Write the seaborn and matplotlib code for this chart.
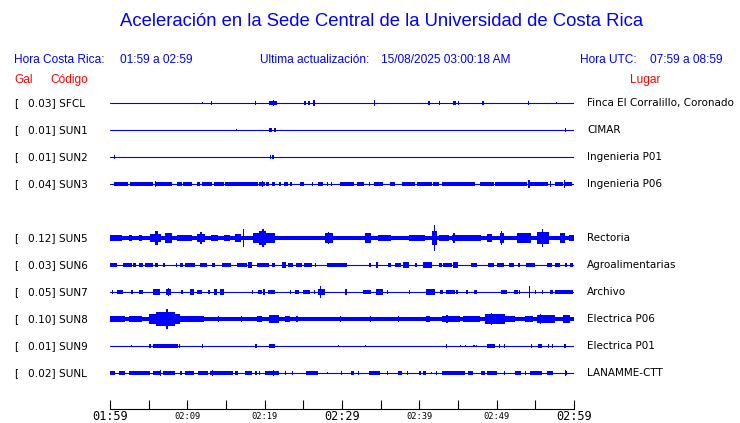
import datetime as dt

import matplotlib
matplotlib.use("Agg")
import matplotlib.pyplot as plt
import pandas as pd
import seaborn as sns

# --- datos ---------------------------------------------------------------
codes = ["SFCL", "SUN1", "SUN2", "SUN3", "SUN4", "SUN5",
         "SUN6", "SUN7", "SUN8", "SUN9", "SUNL"]
peak_gal = [0.03, 0.01, 0.01, 0.04, None, 0.12, 0.03, 0.05, 0.10, 0.01, 0.02]
places = ["Finca El Corralillo, Coronado", "CIMAR", "Ingenieria P01",
          "Ingenieria P06", "", "Rectoria", "Agroalimentarias", "Archivo",
          "Electrica P06", "Electrica P01", "LANAMME-CTT"]

start_cr = dt.datetime(2025, 8, 15, 1, 59)
window_min = 60
utc_offset_h = 6
last_update = "15/08/2025 03:00:18 AM"

sfcl = [(11.9, 11.9, 0.8), (13.1, 13.1, 1.6), (18.7, 18.7, 1.6), (20.5, 21.6, 1.7),
        (21.1, 21.1, 2.5), (25.1, 25.3, 1.5), (25.6, 25.8, 1.5), (26.3, 26.3, 2.5),
        (34.1, 34.1, 3.2), (41.1, 41.35, 1.5), (42.5, 42.5, 1.6), (44.4, 44.8, 1.6),
        (45.0, 45.0, 2.0), (48.1, 48.35, 1.5), (54.0, 54.0, 1.6), (57.7, 57.7, 1.0)]
sun1 = [(16.3, 16.3, 1.0), (20.5, 20.9, 1.4), (21.15, 21.5, 1.4), (58.8, 58.8, 1.6)]
sun2 = [(0.55, 0.55, 1.6), (20.65, 20.8, 1.4), (21.0, 21.2, 1.4)]
sun3 = [(0.5, 2.3, 1.4), (2.6, 5.6, 1.4), (5.8, 5.8, 2.6), (5.9, 8.0, 1.4),
        (8.6, 9.3, 1.3), (9.5, 10.6, 1.3), (11.2, 11.6, 1.3), (11.9, 13.2, 1.3),
        (13.4, 14.7, 1.3), (14.9, 19.2, 1.4), (19.3, 20.0, 2.2), (19.6, 19.6, 3.2),
        (20.2, 20.6, 1.3), (20.9, 21.3, 1.3), (21.8, 22.1, 1.3), (22.5, 23.0, 1.3),
        (23.3, 23.5, 1.3), (24.6, 25.1, 1.3), (26.1, 26.1, 1.5), (26.9, 27.5, 1.3),
        (28.0, 28.1, 1.3), (28.6, 28.6, 1.5), (29.7, 31.5, 1.3), (31.9, 32.8, 1.4),
        (33.5, 33.5, 1.3), (34.1, 35.3, 1.3), (36.2, 36.9, 1.3), (37.7, 39.4, 1.3),
        (39.7, 41.6, 1.3), (41.8, 42.5, 1.3), (42.9, 47.2, 1.4), (47.8, 49.6, 1.4),
        (49.8, 53.9, 1.6), (54.1, 54.1, 3.6), (54.3, 56.7, 1.6), (56.9, 56.9, 2.6),
        (57.5, 58.6, 1.6), (58.7, 58.7, 4.0), (58.8, 59.7, 1.6)]
sun4 = []
sun5 = [(0.0, 60.0, 1.7), (0.0, 1.5, 2.6), (1.2, 1.2, 3.2), (2.4, 2.8, 2.6),
        (3.7, 4.1, 2.6), (5.2, 6.6, 4.0), (5.8, 6.2, 7.0), (7.1, 8.0, 4.5),
        (8.6, 10.6, 2.5), (11.2, 12.3, 4.0), (11.7, 11.9, 5.5), (13.1, 14.0, 2.6),
        (14.7, 15.5, 3.0), (16.2, 17.0, 4.0), (17.2, 17.2, 9.0), (18.5, 21.3, 5.0),
        (19.3, 20.2, 6.5), (19.7, 19.7, 8.5), (27.8, 28.9, 4.5), (28.2, 28.2, 6.0),
        (33.0, 33.8, 4.5), (34.7, 36.4, 2.5), (38.6, 40.7, 2.5), (41.6, 42.3, 7.0),
        (41.9, 41.9, 12.5), (42.5, 43.8, 3.0), (44.2, 48.0, 3.0), (44.4, 44.4, 5.0),
        (48.7, 49.4, 4.0), (50.4, 51.0, 5.0), (50.6, 50.6, 7.0), (52.6, 54.5, 4.5),
        (55.2, 56.8, 5.5), (55.9, 55.9, 8.5), (58.2, 58.8, 4.5), (59.3, 60.0, 2.5)]
sun6 = [(0.0, 0.9, 1.5), (1.7, 2.8, 1.5), (3.0, 3.4, 1.5), (3.7, 4.3, 1.5),
        (4.5, 5.6, 1.5), (5.8, 6.2, 1.5), (6.9, 6.9, 1.5), (8.5, 8.5, 1.5),
        (9.1, 9.4, 1.5), (9.7, 11.0, 1.5), (11.6, 12.5, 1.5), (13.2, 13.6, 1.5),
        (14.5, 15.6, 1.5), (16.4, 17.7, 1.6), (17.8, 18.3, 2.5), (19.0, 20.5, 1.5),
        (20.9, 21.4, 1.5), (22.2, 22.8, 2.5), (23.0, 23.7, 1.5), (24.1, 24.8, 1.5),
        (25.1, 26.1, 1.5), (26.5, 26.5, 1.5), (28.0, 30.6, 1.6), (33.5, 33.8, 1.5),
        (34.4, 34.7, 2.5), (35.9, 36.4, 1.5), (36.9, 37.6, 1.5), (37.9, 38.6, 2.5),
        (39.4, 39.7, 1.5), (40.5, 41.6, 2.5), (41.1, 41.1, 3.2), (42.5, 42.9, 1.5),
        (43.1, 44.2, 1.5), (44.4, 45.0, 3.0), (46.7, 47.4, 1.5), (48.9, 49.7, 2.0),
        (50.0, 50.9, 1.5), (51.6, 52.2, 1.5), (52.8, 53.0, 1.5), (53.8, 55.0, 1.5),
        (56.5, 57.1, 1.5), (57.6, 58.2, 2.0), (58.8, 59.1, 1.5), (59.5, 59.9, 1.5)]
sun7 = [(0.2, 0.4, 1.3), (0.9, 1.7, 1.6), (2.7, 3.0, 1.5), (3.7, 4.3, 1.6),
        (5.6, 6.5, 2.5), (7.2, 7.9, 2.8), (7.5, 7.5, 3.6), (9.2, 9.5, 1.6),
        (10.3, 10.8, 2.5), (11.2, 11.9, 1.5), (12.7, 12.9, 1.3), (13.4, 13.8, 2.5),
        (14.2, 14.8, 3.0), (18.3, 18.3, 1.3), (19.2, 19.6, 1.5), (19.8, 20.0, 3.0),
        (20.4, 21.4, 1.6), (23.3, 23.3, 1.3), (23.9, 24.4, 1.6), (24.9, 25.9, 2.0),
        (26.4, 26.4, 1.5), (26.9, 27.8, 3.0), (27.1, 27.1, 6.0), (30.4, 30.7, 2.5),
        (32.7, 33.8, 2.0), (34.4, 35.3, 3.0), (35.8, 36.0, 1.5), (38.7, 38.7, 1.3),
        (40.9, 42.0, 2.5), (42.7, 43.1, 1.5), (43.4, 44.6, 2.0), (44.8, 45.0, 1.5),
        (46.0, 46.3, 1.5), (47.1, 47.4, 1.5), (50.6, 51.3, 1.6), (52.3, 52.7, 2.0),
        (52.9, 52.9, 1.5), (54.2, 54.2, 5.5), (55.0, 55.0, 1.3), (55.9, 55.9, 1.3),
        (56.9, 57.3, 1.5), (57.5, 59.9, 1.6)]
sun8 = [(0.0, 60.0, 1.7), (0.0, 1.9, 2.6), (2.4, 4.1, 2.6), (5.0, 9.1, 4.5),
        (6.0, 8.4, 6.5), (7.3, 7.3, 9.5), (9.1, 12.1, 2.6), (14.0, 14.0, 2.5),
        (16.9, 16.9, 2.5), (19.0, 19.6, 2.5), (20.6, 21.8, 3.5), (22.6, 23.3, 2.5),
        (24.1, 24.1, 2.5), (29.7, 29.7, 2.5), (33.6, 33.6, 2.5), (37.2, 37.2, 2.5),
        (40.8, 41.4, 2.5), (42.9, 45.3, 3.0), (43.5, 43.5, 4.0), (45.7, 47.8, 2.5),
        (48.5, 51.1, 4.5), (49.3, 49.3, 6.0), (51.1, 52.4, 3.0), (53.7, 54.7, 2.5),
        (55.2, 57.5, 3.5), (55.6, 55.6, 5.0), (58.6, 59.5, 3.5)]
sun9 = [(2.7, 2.7, 1.0), (5.1, 5.1, 1.6), (5.5, 8.8, 1.5), (8.9, 8.9, 1.6),
        (11.9, 11.9, 1.6), (18.8, 18.8, 1.6), (20.5, 21.3, 1.5), (29.5, 29.5, 0.9),
        (33.0, 33.0, 0.9), (43.4, 43.4, 1.6), (45.2, 45.2, 1.0), (45.9, 45.9, 1.0),
        (47.0, 47.0, 1.0), (47.3, 47.3, 1.0), (48.8, 49.8, 1.5), (50.3, 50.3, 1.5),
        (50.9, 50.9, 1.6), (54.4, 54.4, 1.5), (55.4, 55.8, 1.5), (56.6, 56.6, 1.5),
        (57.1, 57.1, 1.5), (58.7, 59.0, 1.5)]
sunl = [(0.0, 0.6, 1.4), (1.2, 1.9, 1.3), (2.4, 5.2, 1.4), (5.6, 6.5, 1.4),
        (6.5, 6.5, 2.5), (6.8, 8.4, 1.4), (9.1, 9.1, 1.3), (9.7, 10.8, 1.4),
        (11.4, 12.7, 1.4), (12.9, 13.4, 2.0), (13.2, 13.2, 2.6), (13.4, 15.9, 1.5),
        (16.2, 16.6, 1.3), (17.5, 18.3, 1.4), (18.8, 18.8, 1.3), (19.3, 19.3, 1.3),
        (20.0, 21.8, 1.4), (21.1, 21.1, 2.6), (22.6, 22.6, 1.3), (23.5, 23.5, 1.3),
        (25.4, 26.9, 1.4), (28.0, 28.0, 1.0), (29.9, 29.9, 1.3), (31.2, 31.5, 1.4),
        (32.1, 32.1, 1.3), (33.5, 34.9, 1.4), (35.8, 35.8, 1.3), (37.2, 37.7, 1.3),
        (38.4, 38.4, 1.3), (39.9, 40.2, 1.3), (40.5, 40.9, 1.3), (41.5, 41.5, 1.0),
        (42.1, 42.1, 1.3), (42.9, 45.9, 1.4), (46.3, 47.0, 1.4), (48.0, 48.5, 1.3),
        (48.8, 50.0, 1.3), (50.9, 50.9, 1.3), (52.4, 53.2, 1.4), (53.7, 53.7, 1.3),
        (54.3, 55.8, 1.4), (56.5, 57.3, 1.4), (58.8, 58.8, 2.6), (59.0, 59.1, 1.3)]

traces = [sfcl, sun1, sun2, sun3, sun4, sun5, sun6, sun7, sun8, sun9, sunl]

# --- estilo ----------------------------------------------------------------
BLUE = "#0000ff"
RED = "#ff0000"
W, H = 740, 423
ROW = 27          # separacion entre trazas (px)
SPIKE_W = 0.15    # ancho minimo de un pico (min)
PEN = 0.25        # grosor extra del trazo (px)

sns.set_style("white")
plt.rcParams["font.family"] = ["DejaVu Sans"]
plt.rcParams["text.color"] = "black"
plt.rcParams["xtick.color"] = "black"
plt.rcParams["xtick.labelcolor"] = "black"

fig = plt.figure(figsize=(W / 100, H / 100), dpi=100)
ax = fig.add_axes([110 / W, (H - 409) / H, 464 / W, (409 - 90) / H])

# lineas base de cada estacion activa
base = pd.DataFrame(
    [{"minuto": m, "y": i * ROW, "codigo": c}
     for i, c in enumerate(codes) if peak_gal[i] is not None
     for m in (0, window_min)])
sns.lineplot(data=base, x="minuto", y="y", units="codigo", estimator=None,
             color=BLUE, lw=0.8, ax=ax)

# envolventes de amplitud
for i, events in enumerate(traces):
    y0 = i * ROW
    for t0, t1, a in events:
        a = a + PEN
        ax.bar(t0, 2 * a, width=max(t1 - t0, SPIKE_W), bottom=y0 - a,
               align="edge", color=BLUE, linewidth=0, antialiased=False)

ax.set_xlim(0, window_min)
ax.set_ylim(10 * ROW + (409 - 373), -(103 - 90))
ax.set_xlabel("")
ax.set_ylabel("")
ax.set_yticks([])
for s in ("left", "top", "right"):
    ax.spines[s].set_visible(False)
ax.spines["bottom"].set_color("black")
ax.spines["bottom"].set_linewidth(0.8)

major = list(range(0, window_min + 1, 10))
ax.set_xticks(major)
ax.set_xticks(range(5, window_min, 10), minor=True)
ax.set_xticklabels([(start_cr + dt.timedelta(minutes=m)).strftime("%H:%M") for m in major])
ax.tick_params(axis="x", which="both", direction="in", length=6.5, width=0.8,
               color="black", labelcolor="black", pad=2, bottom=True)
for m, tick in zip(major, ax.xaxis.get_major_ticks()):
    big = m % 30 == 0
    tick.label1.set_family("DejaVu Sans Mono")
    tick.label1.set_fontsize(8.6 if big else 6.3)
    tick.set_pad(0.6 if big else 2)

# etiquetas de estaciones
for i, c in enumerate(codes):
    if peak_gal[i] is None:
        continue
    y0 = i * ROW
    ax.annotate("[", xy=(14 / W, y0), xycoords=("figure fraction", "data"),
                va="center", fontsize=7.5, color="black", annotation_clip=False)
    ax.annotate(f"{peak_gal[i]:.2f}] {c}", xy=(27.5 / W, y0),
                xycoords=("figure fraction", "data"),
                va="center", fontsize=7.6, color="black", annotation_clip=False)
    ax.annotate(places[i], xy=(587 / W, y0), xycoords=("figure fraction", "data"),
                va="center", fontsize=7.5, color="black", annotation_clip=False)

# encabezados
hdr = dict(family=["Liberation Sans", "DejaVu Sans"], fontsize=8.6, va="center")
end_cr = start_cr + dt.timedelta(minutes=window_min)
start_utc = start_cr + dt.timedelta(hours=utc_offset_h)
end_utc = end_cr + dt.timedelta(hours=utc_offset_h)

fig.text(382 / W, 1 - 22 / H,
         "Aceleración en la Sede Central de la Universidad de Costa Rica",
         ha="center", va="center", color=BLUE,
         family=["Liberation Sans", "DejaVu Sans"], fontsize=13.3)
fig.text(14 / W, 1 - 60 / H, "Hora Costa Rica:", color=BLUE, **hdr)
fig.text(120 / W, 1 - 60 / H,
         f"{start_cr:%H:%M} a {end_cr:%H:%M}", color=BLUE, **hdr)
fig.text(260 / W, 1 - 60 / H, "Ultima actualización:", color=BLUE, **hdr)
fig.text(381 / W, 1 - 60 / H, last_update, color=BLUE, **hdr)
fig.text(580 / W, 1 - 60 / H, "Hora UTC:", color=BLUE, **hdr)
fig.text(650 / W, 1 - 60 / H,
         f"{start_utc:%H:%M} a {end_utc:%H:%M}", color=BLUE, **hdr)
fig.text(14 / W, 1 - 80 / H, "Gal", color=RED, **hdr)
fig.text(50 / W, 1 - 80 / H, "Código", color=RED, **hdr)
fig.text(630 / W, 1 - 80 / H, "Lugar", color=RED, **hdr)

fig.savefig("out.png", dpi=100, facecolor="white")
